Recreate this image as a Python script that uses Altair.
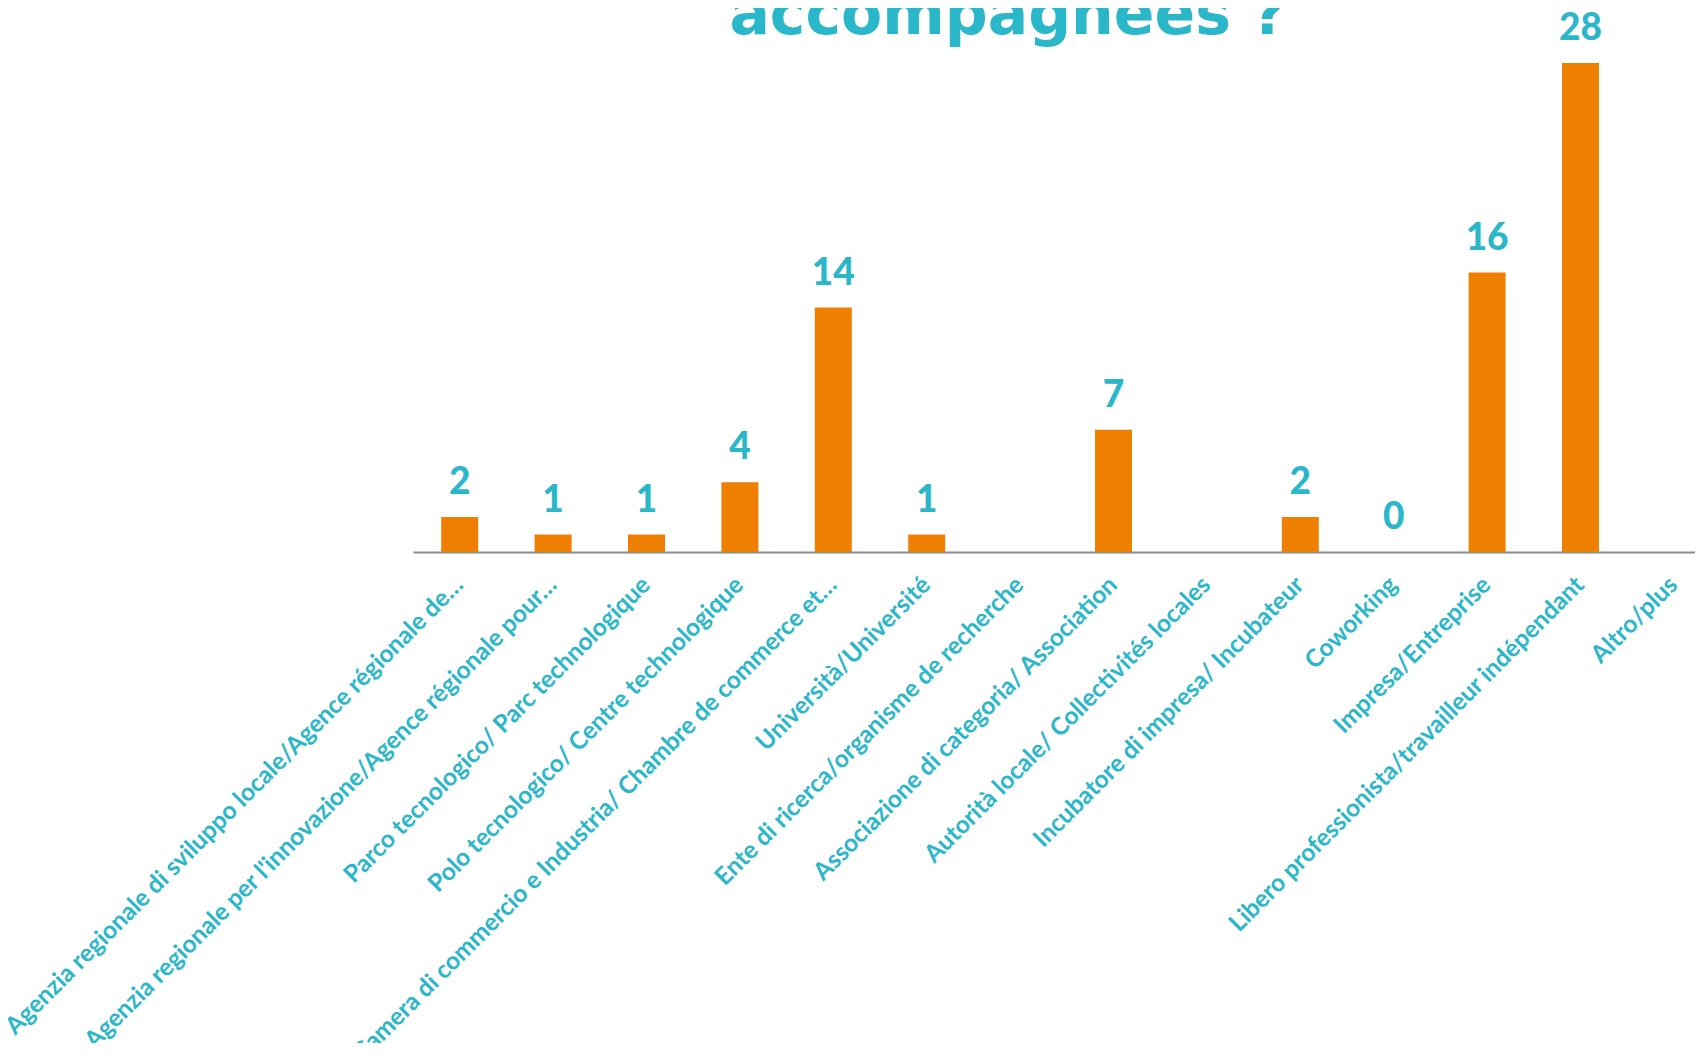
import altair as alt
import pandas as pd

categories = [
    "Agenzia regionale di sviluppo locale/Agence régionale de…",
    "Agenzia regionale per l'innovazione/Agence régionale pour…",
    "Parco tecnologico/ Parc technologique",
    "Polo tecnologico/ Centre technologique",
    "Camera di commercio e Industria/ Chambre de commerce et…",
    "Università/Université",
    "Ente di ricerca/organisme de recherche",
    "Associazione di categoria/ Association",
    "Autorità locale/ Collectivités locales",
    "Incubatore di impresa/ Incubateur",
    "Coworking",
    "Impresa/Entreprise",
    "Libero professionista/travailleur indépendant",
    "Altro/plus",
]
values = [2, 1, 1, 4, 14, 1, None, 7, None, 2, 0, 16, 28, None]
title_text = "accompagnées ?"

CYAN = "#2BB7CA"
ORANGE = "#EF7F00"

df = pd.DataFrame({"cat": categories, "value": values})
df = df.dropna()

x_enc = alt.X(
    "cat:N",
    sort=categories,
    scale=alt.Scale(domain=categories, range=[0, 1307.6], paddingInner=0.604, paddingOuter=0.302),
    axis=alt.Axis(
        title=None,
        labelAngle=-45,
        labelAlign="right",
        labelBaseline="middle",
        labelPadding=29,
        labelLimit=0,
        labelFont="Lato",
        labelFontWeight="bold",
        labelFontSize=24.5,
        labelColor=CYAN,
        ticks=False,
        domainColor="#8C8C8C",
        domainWidth=2,
        grid=False,
    ),
)
y_enc = alt.Y("value:Q", scale=alt.Scale(domain=[0, 28], nice=False), axis=None)

base = alt.Chart(df).encode(x=x_enc, y=y_enc)

bars = base.mark_bar(color=ORANGE)
labels = base.mark_text(
    dy=-23, baseline="alphabetic", align="center", font="Lato", fontWeight=900,
    fontSize=37, color=CYAN,
).encode(text=alt.Text("value:Q", format="d"))

title = alt.Chart(pd.DataFrame({"t": [title_text]})).mark_text(
    font="DejaVu Sans", fontWeight="bold", fontSize=60, color=CYAN, align="center", baseline="alphabetic"
).encode(x=alt.value(595), y=alt.value(-29), text="t:N")

chart = alt.layer(bars, labels, title).properties(
    width=1282,
    height=489,
    autosize=alt.AutoSizeParams(type="none"),
    padding={"left": 405, "top": 55, "right": 0, "bottom": 491},
    background="white",
).configure_view(stroke=None)

chart.save("out.html", embed_options={"renderer": "svg", "actions": False})
